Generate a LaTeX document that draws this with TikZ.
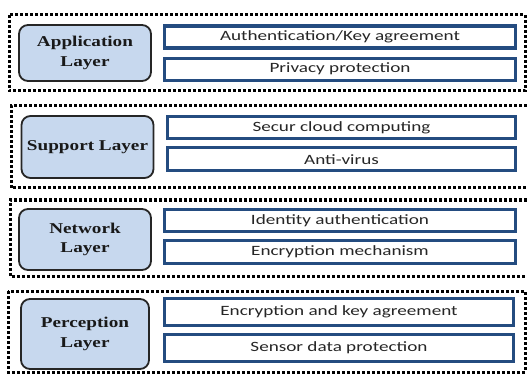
\documentclass[tikz,border=0pt]{standalone}
\usepackage{fontspec}
\newfontfamily\layerfont[FakeStretch=1.28]{Liberation Serif}
\newfontfamily\itemfont[FakeStretch=1.35]{Carlito}
\usetikzlibrary{positioning}
\definecolor{layerfill}{RGB}{199,216,238}
\definecolor{itemline}{RGB}{36,76,128}
\tikzset{
	layerbox/.style={draw=black!85, line width=1.8pt, rounded corners=9pt, fill=layerfill, align=center, inner sep=0pt, minimum width=132pt, text=black!90, font=\layerfont\bfseries\fontsize{15}{19.5}\selectfont},
	itembox/.style={draw=itemline, line width=3.2pt, fill=white, inner sep=0pt, minimum width=351pt, minimum height=22pt, text=black!85, font=\itemfont\fontsize{14.2}{16}\selectfont},
	groupline/.style={line width=3pt, dash pattern=on 2.6pt off 2.4pt}
}

\begin{document}
\begin{tikzpicture}[x=1pt,y=-1pt]
		\useasboundingbox (0,0) rectangle (527,374);
		\draw[groupline] (9,15) rectangle (525,91);
		\draw[groupline] (527,106) -- (11,106) -- (11,188) -- (527,188);
		\draw[groupline] (527,200) -- (10,200) -- (10,276) -- (527,276);
		\draw[groupline] (8,291) rectangle (525,372);

		\node[layerbox, minimum height=56pt] (app) at (85,53) {Application\\Layer};
		\node[layerbox, minimum height=62pt] (sup) at (87.5,147) {Support Layer};
		\node[layerbox, minimum height=61pt] (net) at (85,239.5) {Network\\Layer};
		\node[layerbox, minimum height=70pt, minimum width=128pt] (per) at (85,334) {Perception\\Layer};

		\node[itembox] (auth) at (340,37) {Authentication/Key agreement};
		\node[itembox, below=7pt of auth] (priv) {Privacy protection};
		\node[itembox, minimum width=348pt] (cloud) at (341.5,127.5) {Secur cloud computing};
		\node[itembox, minimum width=348pt, minimum height=23pt, below=6pt of cloud] (virus) {Anti-virus};
		\node[itembox] (ident) at (340,220.5) {Identity authentication};
		\node[itembox, minimum height=23pt, below=6pt of ident] (encr) {Encryption mechanism};
		\node[itembox, minimum height=27pt, minimum width=349pt] (keyag) at (339,312) {Encryption and key agreement};
		\node[itembox, minimum height=27pt, minimum width=349pt, below=6pt of keyag] (sensor) {Sensor data protection};
	\end{tikzpicture}
\end{document}
